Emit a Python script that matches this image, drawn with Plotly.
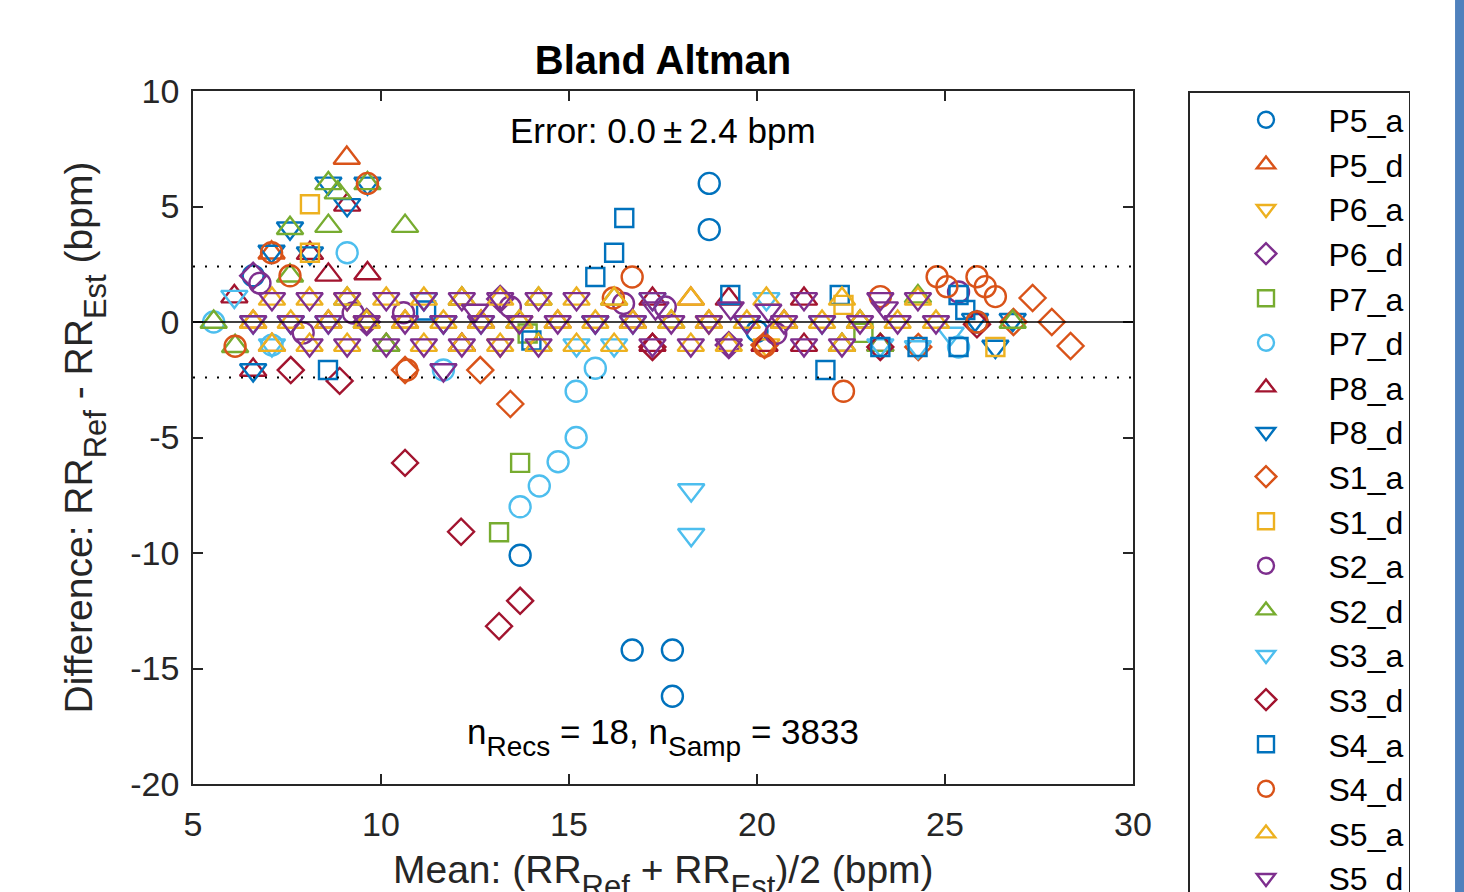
import plotly.graph_objects as go

# ---------------- data ----------------
names = ["P5_a", "P5_d", "P6_a", "P6_d", "P7_a", "P7_d", "P8_a", "P8_d", "S1_a",
         "S1_d", "S2_a", "S2_d", "S3_a", "S3_d", "S4_a", "S4_d", "S5_a", "S5_d"]
symbols = ["circle-open", "triangle-up-open", "triangle-down-open", "diamond-open",
           "square-open", "circle-open", "triangle-up-open", "triangle-down-open",
           "diamond-open", "square-open", "circle-open", "triangle-up-open",
           "triangle-down-open", "diamond-open", "square-open", "circle-open",
           "triangle-up-open", "triangle-down-open"]
colors = ["#0072BD", "#D95319", "#EDB120", "#7E2F8E", "#77AC30", "#4DBEEE", "#A2142F",
          "#0072BD", "#D95319", "#EDB120", "#7E2F8E", "#77AC30", "#4DBEEE", "#A2142F",
          "#0072BD", "#D95319", "#EDB120", "#7E2F8E"]

p5_a_x = [6.6, 13.70, 16.68, 17.75, 17.75, 18.73, 18.73, 20.0, 25.85]
p5_a_y = [2.0, -10.1, -14.2, -14.2, -16.2, 6.0, 4.0, -0.4, 0.0]

p5_d_x = [9.09, 7.09, 6.6, 10.64, 14.7, 18.72, 22.74, 12.15, 18.24, 7.1, 12.15, 22.26]
p5_d_y = [7.1, 3.0, 0.0, 0.0, 0.0, 0.0, 0.0, 1.0, 1.0, -1.0, -1.0, -1.0]

p6_a_x = [9.62, 13.68, 18.72, 9.1, 13.17, 20.25]
p6_a_y = [0.0, 0.0, 0.0, 1.0, -1.0, -1.0]

p6_d_x = [6.6, 9.62, 13.17, 19.25]
p6_d_y = [2.0, 0.0, 1.0, -1.0]

p7_a_x = [13.70, 13.14, 13.9, 22.83]
p7_a_y = [-6.1, -9.1, -0.5, -0.47]

p7_d_x = [9.1, 13.70, 14.21, 14.71, 15.19, 15.19, 15.70, 11.66, 5.55, 25.36, 7.1]
p7_d_y = [3.0, -8.0, -7.1, -6.05, -5.0, -3.0, -2.0, -2.08, 0.0, -1.08, -1.0]

p8_a_x = [9.1, 8.11, 8.6, 9.64, 6.1, 6.6, 8.6, 12.66, 16.7, 20.72, 17.22, 19.25, 21.25,
          10.14, 12.15, 17.22, 20.2, 21.25, 23.28]
p8_a_y = [5.07, 2.98, 2.04, 2.1, 1.1, -2.08, 0.0, 0.0, 0.0, 0.0, 1.0, 1.0, 1.0,
          -1.0, -1.0, -1.0, -1.0, -1.0, -1.0]

p8_d_x = [8.6, 9.1, 9.64, 7.58, 7.09, 8.11, 6.6, 7.6, 11.66, 15.7, 19.73, 25.8, 26.8,
          26.34, 11.14]
p8_d_y = [6.0, 5.07, 6.0, 4.06, 3.05, 2.98, -2.08, 0.0, 0.0, 0.0, 0.0, 0.1, 0.1,
          -1.06, 1.0]

s1_a_x = [10.64, 12.64, 13.44, 27.33, 27.84, 28.34, 26.82, 24.29, 20.2]
s1_a_y = [-2.08, -2.08, -3.55, 1.04, 0.0, -1.04, 0.0, -1.08, -1.0]

s1_d_x = [8.11, 8.11, 26.34, 22.3]
s1_d_y = [5.1, 3.0, -1.08, 0.74]

s2_a_x = [6.78, 7.93, 9.26, 13.44, 16.45, 17.56, 25.36, 10.6, 20.5]
s2_a_y = [1.68, -0.47, 0.39, 0.65, 0.8, 0.65, 1.3, 0.4, -0.5]

s2_d_x = [8.6, 8.85, 9.64, 7.58, 8.6, 10.64, 7.58, 5.55, 6.12, 9.1, 12.15, 14.19, 16.2,
          24.28, 9.62, 13.68, 17.72, 22.74, 26.8, 10.14, 14.19, 22.26, 23.28]
s2_d_y = [6.0, 5.6, 6.0, 4.06, 4.15, 4.15, 2.0, 0.0, -1.05, 1.0, 1.0, 1.0, 1.0,
          1.1, 0.0, 0.0, 0.0, 0.0, 0.0, -1.0, -1.0, -1.0, -1.0]

s3_a_x = [18.25, 18.25, 6.1, 11.14, 17.22, 20.25, 6.6, 8.6, 12.66, 16.7, 21.73, 7.1,
          15.2, 16.2, 23.28, 25.15, 24.28]
s3_a_y = [-7.27, -9.21, 1.1, 1.0, 1.0, 1.0, 0.0, 0.0, 0.0, 0.0, 0.0, -1.0,
          -1.0, -1.0, -1.0, -0.5, -1.08]

s3_d_x = [10.64, 12.13, 13.14, 13.70, 7.6, 8.9, 17.22, 23.28, 25.85]
s3_d_y = [-6.1, -9.08, -13.17, -12.07, -2.08, -2.55, -1.08, -1.08, -0.1]

s4_a_x = [16.47, 16.2, 15.70, 21.82, 25.36, 25.54, 24.27, 25.36, 23.28, 8.59, 19.29,
          22.2, 11.2, 14.0]
s4_a_y = [4.5, 3.0, 1.95, -2.08, 1.17, 0.52, -1.08, -1.08, -1.08, -2.08, 1.17,
          1.17, 0.5, -0.8]

s4_d_x = [9.64, 7.09, 7.58, 16.68, 22.3, 24.79, 25.05, 25.85, 26.07, 26.34, 25.85,
          10.69, 6.12, 16.18, 23.28, 20.2]
s4_d_y = [6.0, 3.0, 2.0, 1.95, -3.0, 1.96, 1.53, 1.96, 1.53, 1.1, 0.0,
          -2.08, -1.05, 1.04, 1.1, -1.05]

s5_a_x = [6.6, 7.6, 8.6, 9.62, 10.64, 11.66, 12.66, 13.68, 14.7, 15.7, 16.7, 17.72,
          18.72, 19.73, 20.72, 21.73, 22.74, 23.74, 24.76,
          7.1, 8.1, 9.1, 10.14, 11.14, 12.15, 13.17, 14.19, 15.2, 16.2, 18.24, 20.25,
          22.26, 24.28,
          7.1, 8.1, 9.1, 11.14, 12.15, 13.17, 14.19, 15.2, 16.2, 18.24, 19.25, 22.26]
s5_a_y = [0.0, 0.0, 0.0, 0.0, 0.0, 0.0, 0.0, 0.0, 0.0, 0.0, 0.0, 0.0,
          0.0, 0.0, 0.0, 0.0, 0.0, 0.0, 0.0,
          1.0, 1.0, 1.0, 1.0, 1.0, 1.0, 1.0, 1.0, 1.0, 1.0, 1.0, 1.0,
          1.0, 1.0,
          -1.0, -1.0, -1.0, -1.0, -1.0, -1.0, -1.0, -1.0, -1.0, -1.0, -1.0, -1.0]

s5_d_x = [6.6, 7.6, 8.6, 9.62, 10.64, 11.66, 12.66, 13.68, 14.7, 15.7, 16.7, 17.72,
          18.72, 19.73, 20.72, 21.73, 22.74, 23.74, 24.76,
          7.1, 8.1, 9.1, 10.14, 11.14, 12.15, 13.17, 14.19, 15.2, 17.22, 21.25, 23.28,
          24.28,
          12.5, 17.3, 19.3, 20.3, 23.4,
          8.1, 9.1, 10.14, 11.14, 12.15, 13.17, 14.19, 17.22, 18.24, 19.25, 21.25, 22.26,
          11.66]
s5_d_y = [0.0, 0.0, 0.0, 0.0, 0.0, 0.0, 0.0, 0.0, 0.0, 0.0, 0.0, 0.0,
          0.0, 0.0, 0.0, 0.0, 0.0, 0.0, 0.0,
          1.0, 1.0, 1.0, 1.0, 1.0, 1.0, 1.0, 1.0, 1.0, 1.0, 1.0, 1.0,
          1.0,
          0.5, 0.6, 0.6, 0.5, 0.6,
          -1.0, -1.0, -1.0, -1.0, -1.0, -1.0, -1.0, -1.0, -1.0, -1.0, -1.0, -1.0,
          -2.08]

xs = [p5_a_x, p5_d_x, p6_a_x, p6_d_x, p7_a_x, p7_d_x, p8_a_x, p8_d_x, s1_a_x,
      s1_d_x, s2_a_x, s2_d_x, s3_a_x, s3_d_x, s4_a_x, s4_d_x, s5_a_x, s5_d_x]
ys = [p5_a_y, p5_d_y, p6_a_y, p6_d_y, p7_a_y, p7_d_y, p8_a_y, p8_d_y, s1_a_y,
      s1_d_y, s2_a_y, s2_d_y, s3_a_y, s3_d_y, s4_a_y, s4_d_y, s5_a_y, s5_d_y]

bias = 0.0
loa = 2.4
x_range = [5, 30]
y_range = [-20, 10]
x_ticks = [5, 10, 15, 20, 25, 30]
x_ticktext = ["5", "10", "15", "20", "25", "30"]
y_ticks = [-20, -15, -10, -5, 0, 5, 10]
y_ticktext = ["-20", "-15", "-10", "-5", "0", "5", "10"]

# ---------------- styling ----------------
FONT = "Liberation Sans, Arial, Helvetica, sans-serif"
AX = "#262626"
size_by_symbol = {"circle-open": 21, "triangle-up-open": 23, "triangle-down-open": 23,
                  "diamond-open": 20, "square-open": 18}


def sub(t, px):
    # doubly nested <sub> gives a deeper baseline drop, like the TeX subscripts
    return "<sub><sub><span style='font-size:%dpx'>%s</span></sub></sub>" % (px, t)


fig = go.Figure()
for n, s, c, x, y in zip(names, symbols, colors, xs, ys):
    fig.add_trace(go.Scatter(
        x=x, y=y, mode="markers", name=n,
        marker=dict(symbol=s, size=size_by_symbol[s], color=c,
                    line=dict(width=2.4, color=c)),
    ))

# bias and limits of agreement
fig.add_shape(type="line", xref="x", yref="y", x0=x_range[0], x1=x_range[1],
              y0=bias, y1=bias, line=dict(color="#000000", width=1.6), layer="above")
for v in (bias + loa, bias - loa):
    fig.add_shape(type="line", xref="x", yref="y", x0=x_range[0], x1=x_range[1],
                  y0=v, y1=v, line=dict(color="#000000", width=2, dash="2px,10px"),
                  layer="above")

# right-edge blue bar (window edge in the reference)
fig.add_shape(type="rect", xref="paper", yref="paper", x0=1.3426, x1=1.37,
              y0=-0.3, y1=1.3, fillcolor="#4f81bd", line=dict(width=0), layer="above")

fig.add_annotation(text="Error: 0.0\u2009\u00b1\u20092.4 bpm", xref="paper", yref="paper",
                   x=0.5, y=0.9437, xanchor="center", yanchor="middle", showarrow=False,
                   font=dict(size=35, color="#000000", family=FONT))
fig.add_annotation(text="n" + sub("Recs", 28) + " = 18, n" + sub("Samp", 28) + " = 3833",
                   xref="paper", yref="paper", x=0.5, y=0.068, xanchor="center",
                   yanchor="middle", showarrow=False,
                   font=dict(size=35, color="#000000", family=FONT))

# x-axis label (placed as a paper annotation so it may run past the bottom edge,
# as it does in the reference)
fig.add_annotation(text="Mean: (RR" + sub("Ref", 31) + " + RR" + sub("Est", 31)
                   + ")/2 (bpm)",
                   xref="paper", yref="paper", x=0.5, y=-0.0895, xanchor="center",
                   yanchor="top", showarrow=False,
                   font=dict(size=39, color=AX, family=FONT))

axis_common = dict(showline=True, linecolor=AX, linewidth=1.5, mirror="ticks",
                   ticks="inside", ticklen=10, tickwidth=1.5, tickcolor=AX,
                   showgrid=False, zeroline=False,
                   tickfont=dict(size=34, color=AX, family=FONT))

fig.update_layout(
    width=1464, height=892,
    margin=dict(l=193, r=331, t=91, b=108, autoexpand=False),
    paper_bgcolor="white", plot_bgcolor="white",
    font=dict(family=FONT, color=AX),
    title=dict(text="<b>Bland Altman</b>", x=0.5, xref="paper", xanchor="center",
               y=1 - 60 / 892, yref="container", yanchor="middle",
               font=dict(size=40, color="#000000", family=FONT)),
    xaxis=dict(range=x_range, tickvals=x_ticks, ticktext=x_ticktext,
               ticklabelstandoff=9, **axis_common),
    yaxis=dict(range=y_range, tickvals=y_ticks, ticktext=y_ticktext,
               ticklabelstandoff=5,
               title=dict(text="Difference: RR" + sub("Ref", 31) + " - RR" + sub("Est", 31)
                          + " (bpm)",
                          font=dict(size=39, color=AX, family=FONT), standoff=26),
               **axis_common),
    legend=dict(x=(1188 - 193) / 940, xanchor="left", y=1, yanchor="top",
                bordercolor=AX, borderwidth=1.5, bgcolor="white",
                font=dict(size=32, color="#000000", family=FONT),
                itemwidth=115, indentation=14, tracegroupgap=0, maxheight=1400),
    showlegend=True,
)

fig.write_html("out.html", config={"displayModeBar": False},
               post_script="document.body.style.margin='0';"
                           "document.body.style.overflow='hidden';")
